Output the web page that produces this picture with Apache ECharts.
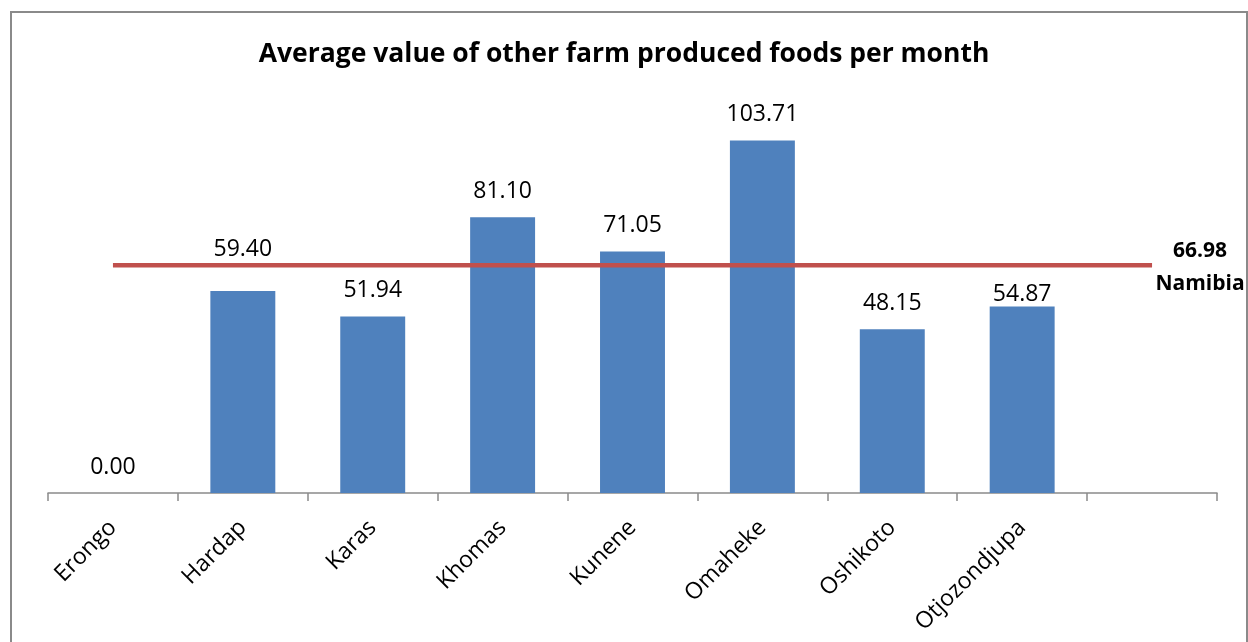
<!DOCTYPE html>
<html><head><meta charset="utf-8">
<script src="https://cdn.jsdelivr.net/npm/echarts@6/dist/echarts.min.js"></script>
<style>html,body{margin:0;padding:0;background:#fff}#c{width:1248px;height:642px}</style>
</head><body><div id="c"></div>
<script>
const categories = ['Erongo','Hardap','Karas','Khomas','Kunene','Omaheke','Oshikoto','Otjozondjupa',''];
const values = [0.00, 59.40, 51.94, 81.10, 71.05, 103.71, 48.15, 54.87, null];
const namibiaLine = [66.98, 66.98, 66.98, 66.98, 66.98, 66.98, 66.98, 66.98, 66.98];
const namibiaLabel = 'Namibia';
const labelOffsets = [0, -16, 0, 0, 0, 0, 0, 14, 0];

const FONT = 'Open Sans';
const chart = echarts.init(document.getElementById('c'));
chart.setOption({
  animation: false,
  textStyle: {fontFamily: FONT},
  title: {text: 'Average value of other farm produced foods per month', left: 'center', top: 36,
    textStyle: {fontFamily: FONT, fontWeight: 'bold', fontSize: 26.5, color: '#000'}},
  graphic: [{type: 'rect', shape: {x: 11, y: 12, width: 1236, height: 640},
    style: {fill: 'none', stroke: '#8a8a8a', lineWidth: 2}, silent: true}],
  grid: {left: 48, right: 31, top: 85, bottom: 149},
  xAxis: {type: 'category', data: categories, boundaryGap: true,
    axisLine: {lineStyle: {color: '#8a8a8a', width: 1.5}},
    axisTick: {show: true, length: 8, alignWithLabel: false, lineStyle: {color: '#8a8a8a', width: 1.5}},
    axisLabel: {interval: 0, rotate: 45, fontSize: 23, color: '#000', margin: 31, fontFamily: FONT}},
  yAxis: {type: 'value', min: 0, max: 120, show: false, splitLine: {show: false}},
  series: [
    {type: 'bar', barWidth: '50%', itemStyle: {color: '#4F81BD'},
     data: values.map((v, i) => ({value: v, label: {offset: [0, labelOffsets[i]]}})),
     label: {show: true, position: 'top', distance: 14, fontSize: 23, color: '#000', fontFamily: FONT,
       formatter: p => p.value == null ? '' : p.value.toFixed(2)}},
    {type: 'line', data: namibiaLine,
     symbol: 'none', lineStyle: {color: '#C0504D', width: 4.5}, z: 3,
     endLabel: {show: true, fontSize: 21, fontWeight: 'bold', color: '#000',
       align: 'center', distance: 0, offset: [48, 2], lineHeight: 33, fontFamily: FONT,
       formatter: p => p.value.toFixed(2) + '\n' + namibiaLabel}}
  ]
});
</script></body></html>
